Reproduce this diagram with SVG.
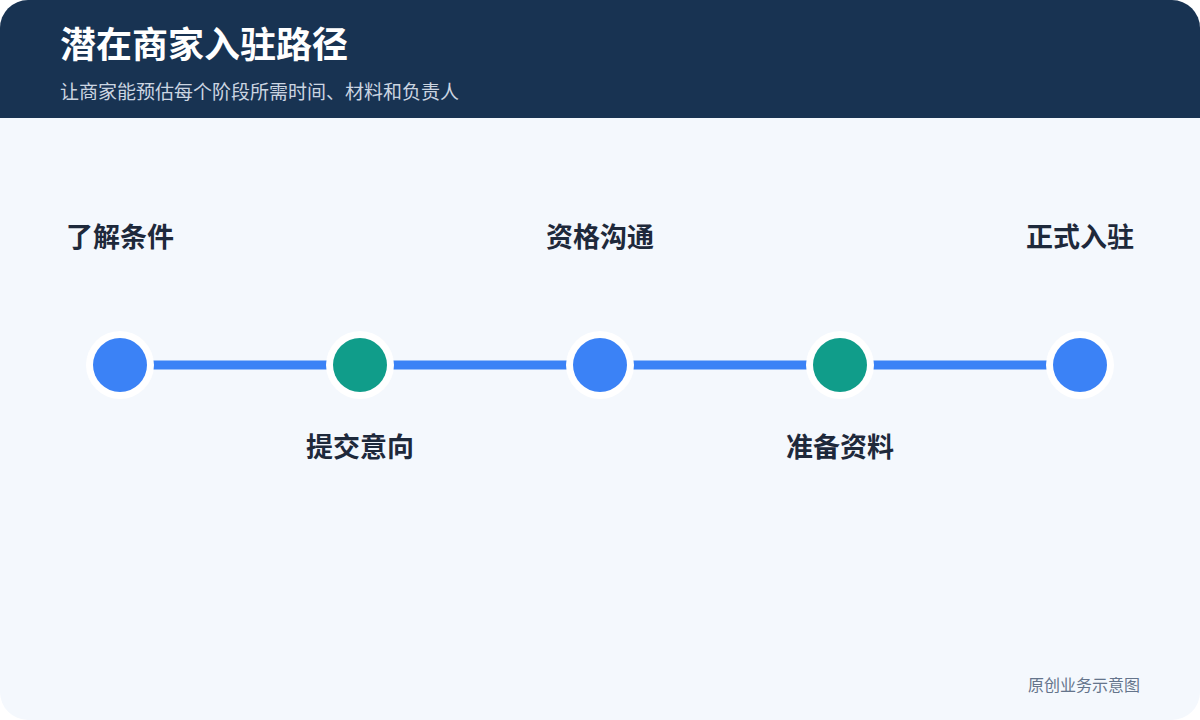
<svg xmlns="http://www.w3.org/2000/svg" width="1200" height="720" viewBox="0 0 1200 720">
<defs>
<style>
.title{font-family:"Noto Sans CJK SC","Noto Sans",sans-serif;font-weight:700;font-size:36px;fill:#ffffff}
.sub{font-family:"Noto Sans CJK SC","Noto Sans",sans-serif;font-size:19px;fill:#cbd5e1}
.lbl{font-family:"Noto Sans CJK SC","Noto Sans",sans-serif;font-weight:700;font-size:27px;fill:#1e293b;text-anchor:middle}
.foot{font-family:"Noto Sans CJK SC","Noto Sans",sans-serif;font-size:16px;fill:#64748b;text-anchor:end}
.ring{fill:#ffffff}
.blue{fill:#3b82f6}
.green{fill:#109d8a}
.conn{stroke:#3b82f6;stroke-width:9}
</style>
<clipPath id="card"><rect x="0" y="0" width="1200" height="720" rx="28"/></clipPath>
</defs>
<rect width="1200" height="720" fill="#ffffff"/>
<g clip-path="url(#card)">
<rect x="0" y="0" width="1200" height="720" fill="#f4f8fd"/>
<rect x="0" y="0" width="1200" height="118" fill="#183352"/>
</g>
<text class="title" x="60" y="58">潜在商家入驻路径</text>
<text class="sub" x="60" y="99">让商家能预估每个阶段所需时间、材料和负责人</text>
<g id="connectors">
<line class="conn" x1="150" y1="365" x2="330" y2="365"/>
<line class="conn" x1="390" y1="365" x2="570" y2="365"/>
<line class="conn" x1="630" y1="365" x2="810" y2="365"/>
<line class="conn" x1="870" y1="365" x2="1050" y2="365"/>
</g>
<g id="n1"><circle class="ring" cx="120" cy="365" r="34"/><circle class="blue" cx="120" cy="365" r="27"/><text class="lbl" x="120" y="247">了解条件</text></g>
<g id="n2"><circle class="ring" cx="360" cy="365" r="34"/><circle class="green" cx="360" cy="365" r="27"/><text class="lbl" x="360" y="457">提交意向</text></g>
<g id="n3"><circle class="ring" cx="600" cy="365" r="34"/><circle class="blue" cx="600" cy="365" r="27"/><text class="lbl" x="600" y="247">资格沟通</text></g>
<g id="n4"><circle class="ring" cx="840" cy="365" r="34"/><circle class="green" cx="840" cy="365" r="27"/><text class="lbl" x="840" y="457">准备资料</text></g>
<g id="n5"><circle class="ring" cx="1080" cy="365" r="34"/><circle class="blue" cx="1080" cy="365" r="27"/><text class="lbl" x="1080" y="247">正式入驻</text></g>
<text class="foot" x="1140" y="691">原创业务示意图</text>
</svg>
